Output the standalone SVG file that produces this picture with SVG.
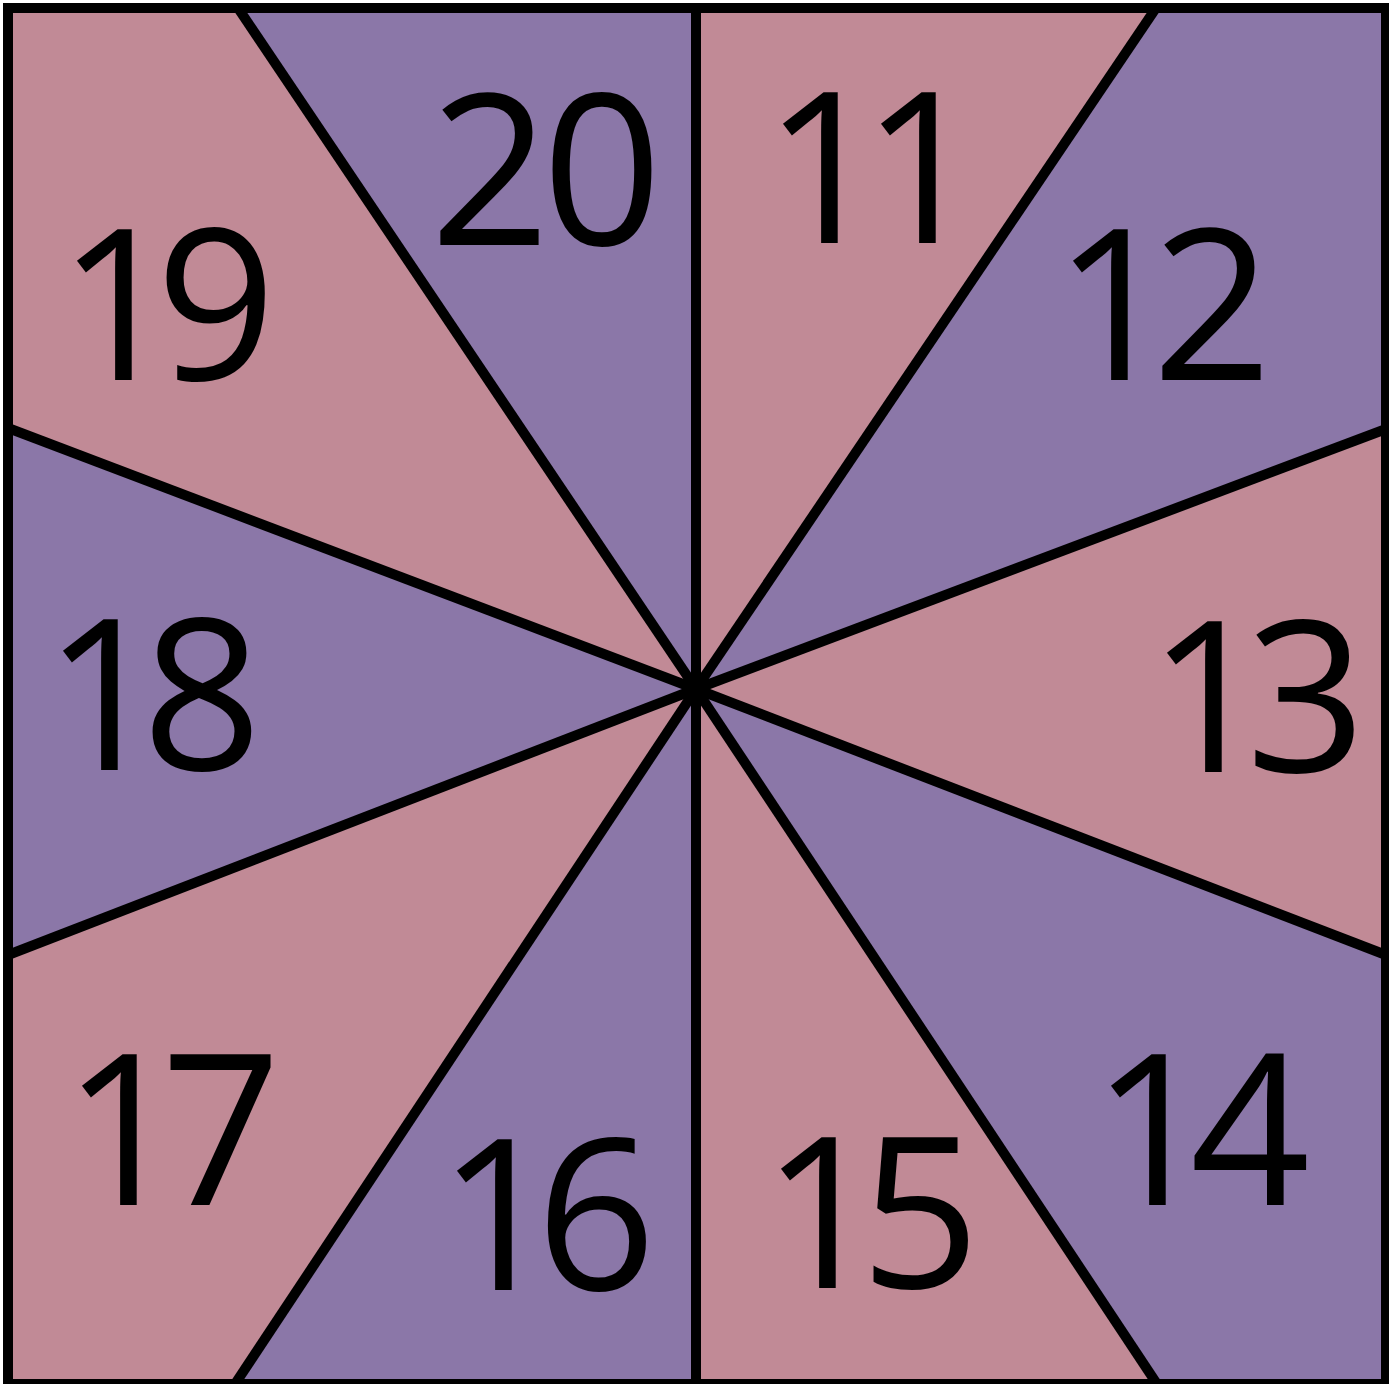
<svg xmlns="http://www.w3.org/2000/svg" width="1389" height="1384" viewBox="0 0 1389 1384">
<style>
.pink{fill:#C18A96}
.purple{fill:#8B77A8}
.ray{stroke:#000;stroke-width:10;stroke-linecap:butt}
.num{font-family:"Open Sans","Liberation Sans",sans-serif;font-weight:500;font-size:210px;fill:#000;text-anchor:middle;letter-spacing:-22px}
</style>
<rect x="0" y="0" width="1389" height="1384" fill="#fff"/>
<g id="sectors">
<g id="s11"><polygon class="pink" points="696,689 696,8 1156,8"/><text class="num" x="862" y="243">11</text></g>
<g id="s12"><polygon class="purple" points="696,689 1156,8 1386,8 1386,429"/><text class="num" x="1152" y="380">12</text></g>
<g id="s13"><polygon class="pink" points="696,689 1386,429 1386,955"/><text class="num" x="1246" y="772">13</text></g>
<g id="s14"><polygon class="purple" points="696,689 1386,955 1386,1384 1157,1384"/><text class="num" x="1190" y="1205">14</text></g>
<g id="s15"><polygon class="pink" points="696,689 1157,1384 696,1384"/><text class="num" x="860" y="1288">15</text></g>
<g id="s16"><polygon class="purple" points="696,689 696,1384 235,1384"/><text class="num" x="536" y="1290">16</text></g>
<g id="s17"><polygon class="pink" points="696,689 235,1384 8,1384 8,955"/><text class="num" x="161" y="1205">17</text></g>
<g id="s18"><polygon class="purple" points="696,689 8,955 8,428"/><text class="num" x="142" y="770">18</text></g>
<g id="s19"><polygon class="pink" points="696,689 8,428 8,8 238,8"/><text class="num" x="156" y="380">19</text></g>
<g id="s20"><polygon class="purple" points="696,689 238,8 696,8"/><text class="num" x="542" y="245" style="letter-spacing:-8px">20</text></g>
</g>
<g id="connectors">
<line class="ray" x1="696" y1="689" x2="696" y2="8"/>
<line class="ray" x1="696" y1="689" x2="1156" y2="8"/>
<line class="ray" x1="696" y1="689" x2="1386" y2="429"/>
<line class="ray" x1="696" y1="689" x2="1386" y2="955"/>
<line class="ray" x1="696" y1="689" x2="1157" y2="1384"/>
<line class="ray" x1="696" y1="689" x2="696" y2="1384"/>
<line class="ray" x1="696" y1="689" x2="235" y2="1384"/>
<line class="ray" x1="696" y1="689" x2="8" y2="955"/>
<line class="ray" x1="696" y1="689" x2="8" y2="428"/>
<line class="ray" x1="696" y1="689" x2="238" y2="8"/>
<circle cx="696" cy="689" r="8" fill="#000"/>
</g>
<rect id="frame" x="8" y="8" width="1378" height="1376" fill="none" stroke="#000" stroke-width="10"/>
</svg>
